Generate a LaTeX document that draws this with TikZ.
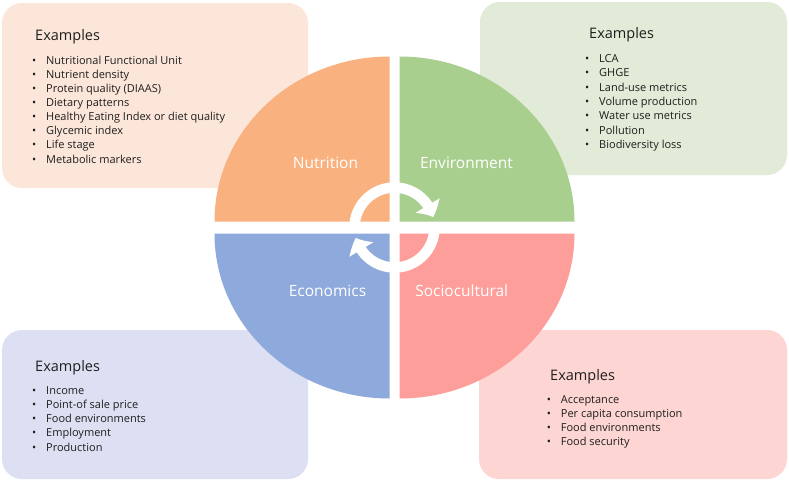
\documentclass[tikz,border=0pt]{standalone}
\usepackage{fontspec}
\setmainfont{Open Sans}
\usetikzlibrary{arrows.meta,bending,calc}
\definecolor{cNut}{HTML}{F9B180}
\definecolor{cEnv}{HTML}{A9CF8E}
\definecolor{cEco}{HTML}{8EA9DB}
\definecolor{cSoc}{HTML}{FE9E9A}
\definecolor{bNut}{HTML}{FCE6D9}
\definecolor{bEnv}{HTML}{E2EBD7}
\definecolor{bEco}{HTML}{DDE0F3}
\definecolor{bSoc}{HTML}{FDD6D3}
\definecolor{txt}{HTML}{1E1E1E}
\tikzset{
  panel/.style={draw=none, rounded corners=20pt, inner sep=0pt, outer sep=0pt, anchor=north west},
  heading/.style={anchor=base west, inner sep=0pt, text=txt, font=\fontsize{14.5}{16}\selectfont},
  item/.style={anchor=base west, inner sep=0pt, text=txt, font=\fontsize{11}{12}\selectfont},
  qlabel/.style={anchor=base, inner sep=0pt, text=white, font=\fontsize{15.5}{17}\selectfont},
  ringarrow/.style={draw=white, line width=10.5pt, -{Triangle[width=27pt,length=13pt,bend]}},
}
\newcommand{\bul}{\makebox[14pt][l]{\textbullet}}
\begin{document}
\begin{tikzpicture}[x=1pt,y=1pt]
\fill[white] (0,0) rectangle (789,-482);
\useasboundingbox (0,0) rectangle (789,-482);

% panels
\node[panel, fill=bNut, minimum width=306pt, minimum height=185pt] (pNut) at (2,-3) {};
\node[panel, fill=bEnv, minimum width=307pt, minimum height=173pt] (pEnv) at (480,-2) {};
\node[panel, fill=bEco, minimum width=306pt, minimum height=149pt] (pEco) at (2,-330) {};
\node[panel, fill=bSoc, minimum width=308pt, minimum height=149pt] (pSoc) at (479,-330) {};

% headings
\node[heading] (hNut) at (35,-40) {Examples};
\node[heading] (hEnv) at (589,-38.3) {Examples};
\node[heading] (hEco) at (35,-371.7) {Examples};
\node[heading] (hSoc) at (550,-380) {Examples};

% items
\foreach \t [count=\i from 0] in {Nutritional Functional Unit, Nutrient density, Protein quality (DIAAS), Dietary patterns, Healthy Eating Index or diet quality, Glycemic index, Life stage, Metabolic markers}
  \node[item] (iNut\i) at (32,{-64-14.15*\i}) {\bul\t};
\foreach \t [count=\i from 0] in {LCA, GHGE, Land-use metrics, Volume production, Water use metrics, Pollution, Biodiversity loss}
  \node[item] (iEnv\i) at (585,{-62.7-14.27*\i}) {\bul\t};
\foreach \t [count=\i from 0] in {Income, Point-of sale price, Food environments, Employment, Production}
  \node[item] (iEco\i) at (32,{-394-14.25*\i}) {\bul\t};
\foreach \t [count=\i from 0] in {Acceptance, Per capita consumption, Food environments, Food security}
  \node[item] (iSoc\i) at (546.7,{-403.3-14.2*\i}) {\bul\t};

% quadrants
\fill[cNut] (389.5,-221.5) -- (214.5,-221.5) arc[start angle=180, end angle=90, x radius=175, y radius=165] -- cycle;
\fill[cEnv] (399.5,-221.5) -- (399.5,-56.5) arc[start angle=90, end angle=0, x radius=175, y radius=165] -- cycle;
\fill[cEco] (389.5,-233.5) -- (214.5,-233.5) arc[start angle=180, end angle=270, x radius=175, y radius=165] -- cycle;
\fill[cSoc] (399.5,-233.5) -- (399.5,-398.5) arc[start angle=270, end angle=360, x radius=175, y radius=165] -- cycle;

% quadrant labels
\node[qlabel] (lNut) at (325.5,-168) {Nutrition};
\node[qlabel] (lEnv) at (466.5,-168) {Environment};
\node[qlabel] (lEco) at (327.5,-296) {Economics};
\node[qlabel] (lSoc) at (461.7,-296) {Sociocultural};

% circular arrows
\coordinate (c) at (394.5,-227.5);
\draw[ringarrow] ($(c)+(180:40)$) arc[start angle=180, end angle=15, radius=40];
\draw[ringarrow] ($(c)+(0:40)$) arc[start angle=0, end angle=-165, radius=40];
\end{tikzpicture}
\end{document}
